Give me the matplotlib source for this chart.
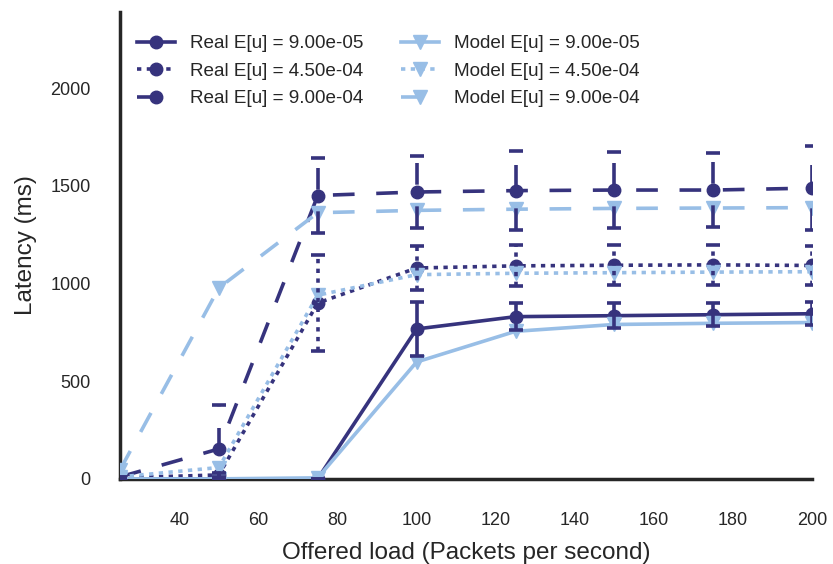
import matplotlib
matplotlib.use('Agg')
import matplotlib.pyplot as plt

# Offered load values (packets per second)
load = [25, 50, 75, 100, 125, 150, 175, 200]

# Measured latency (ms) and spread, one list per E[u]
real_9e5 = [0, 0, 0, 767, 830, 835, 840, 845]
real_9e5_err = [0, 0, 0, 136, 70, 65, 60, 60]
real_45e4 = [5, 20, 900, 1079, 1090, 1093, 1095, 1092]
real_45e4_err = [0, 10, 245, 112, 105, 103, 102, 100]
real_9e4 = [10, 153, 1450, 1468, 1475, 1478, 1478, 1488]
real_9e4_err = [0, 225, 192, 182, 202, 195, 189, 214]

# Model predictions (ms)
model_9e5 = [0, 0, 5, 598, 755, 790, 796, 800]
model_45e4 = [10, 58, 940, 1045, 1052, 1055, 1058, 1060]
model_9e4 = [45, 977, 1362, 1374, 1380, 1384, 1386, 1388]

labels = ['E[u] = 9.00e-05', 'E[u] = 4.50e-04', 'E[u] = 9.00e-04']

dark = '#36337d'
light = '#98bee6'
styles = ['-', (0, (1.2, 1.5)), (0, (6, 6))]

plt.rcParams['font.family'] = ['Liberation Sans', 'DejaVu Sans']
plt.rcParams['text.color'] = '#262626'
plt.rcParams['axes.labelcolor'] = '#262626'
plt.rcParams['xtick.color'] = '#262626'
plt.rcParams['ytick.color'] = '#262626'


def main():
    fig = plt.figure(figsize=(8.33, 5.64), dpi=100)
    ax = fig.add_axes([0.144, 0.151, 0.831, 0.828])

    reals = [real_9e5, real_45e4, real_9e4]
    errs = [real_9e5_err, real_45e4_err, real_9e4_err]
    models = [model_9e5, model_45e4, model_9e4]

    real_handles = []
    for vals, ls, lab in zip(reals, styles, labels):
        h, = ax.plot(load, vals, linestyle=ls, color=dark, lw=2.6,
                     marker='o', ms=9, label='Real ' + lab, zorder=3)
        real_handles.append(h)

    model_handles = []
    for vals, ls, lab in zip(models, styles, labels):
        h, = ax.plot(load, vals, linestyle=ls, color=light, lw=2.6,
                     marker='v', ms=10, label='Model ' + lab, zorder=4)
        model_handles.append(h)

    # error bars follow the line style of their series
    for vals, err, ls in zip(reals, errs, styles):
        eb = ax.errorbar(load, vals, yerr=err, fmt='none', ecolor=dark,
                         elinewidth=2.6, capsize=5, capthick=2.6, zorder=5)
        eb[2][0].set_linestyle(ls)

    ax.set_xlim(25, 200)
    ax.set_ylim(0, 2390)
    ax.set_xticks(range(40, 201, 20))
    ax.set_yticks(range(0, 2001, 500))
    ax.tick_params(length=0, pad=21, labelsize=13)
    ax.tick_params(axis='x', pad=24)

    for side in ['top', 'right']:
        ax.spines[side].set_visible(False)
    for side in ['left', 'bottom']:
        ax.spines[side].set_linewidth(2.5)
        ax.spines[side].set_color('#262626')

    ax.set_xlabel('Offered load (Packets per second)', fontsize=17.5, labelpad=9)
    ax.set_ylabel('Latency (ms)', fontsize=17.5, labelpad=10)

    ax.legend(real_handles + model_handles,
              [h.get_label() for h in real_handles + model_handles],
              ncol=2, frameon=False, loc='upper left', fontsize=13.6,
              handlelength=2.0, labelspacing=0.55, columnspacing=2.0,
              bbox_to_anchor=(0.0, 0.987))

    fig.savefig('out.png', dpi=100)


if __name__ == '__main__':
    main()
